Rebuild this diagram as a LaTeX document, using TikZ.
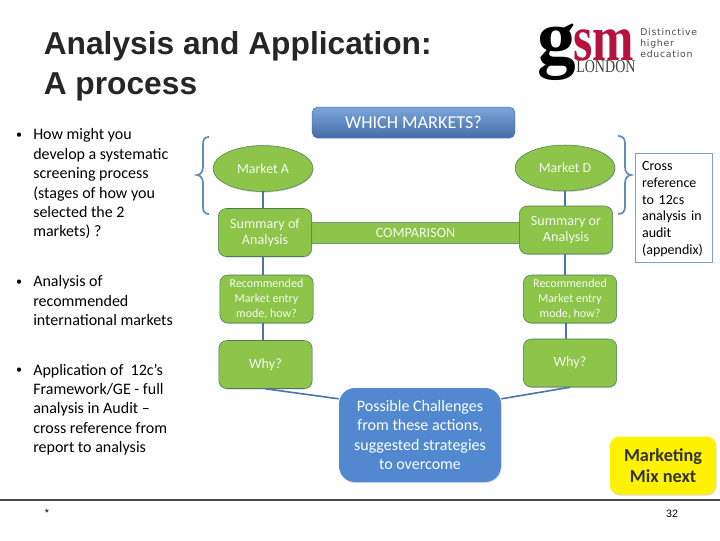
\documentclass[tikz,border=0pt]{standalone}
\usepackage{fontspec}
\setmainfont{Carlito}
\newfontfamily\titlefont{Liberation Sans}
\newfontfamily\logofont{Liberation Serif}
\newfontfamily\tagfont[LetterSpace=8]{DejaVu Sans}
\usetikzlibrary{shapes.geometric,shadows}
\definecolor{leaf}{HTML}{8CC54A}
\definecolor{leafline}{HTML}{4F7A55}
\definecolor{linkblue}{HTML}{4A74AE}
\definecolor{boxblue}{HTML}{5288CF}
\definecolor{crimson}{HTML}{B5123E}
\tikzset{
  softshadow/.style={drop shadow={shadow xshift=0.4pt, shadow yshift=-0.8pt, opacity=0.3}},
  leafbox/.style={draw=leafline, fill=leaf, rounded corners=6pt, text=white!92!leaf, align=center, inner sep=0pt, minimum width=70pt, minimum height=36pt, font=\fontsize{10.6}{12}\selectfont, softshadow},
  smallbox/.style={leafbox, font=\fontsize{9}{11.3}\selectfont},
  marketoval/.style={ellipse, draw=leafline, fill=leaf, text=white!92!leaf, inner sep=0pt, minimum width=75pt, minimum height=34.5pt, font=\fontsize{10.4}{14}\selectfont, softshadow},
  bullettext/.style={anchor=north west, align=left, inner sep=0pt, font=\fontsize{12}{14.55}\selectfont},
  bulletdot/.style={inner sep=0pt, font=\fontsize{9}{10}\selectfont},
  link/.style={draw=linkblue, line width=1.2pt},
  curly/.style={draw=linkblue!85!white, line width=1.3pt}
}
\begin{document}
\begin{tikzpicture}[x=0.75pt,y=-0.75pt]
\useasboundingbox (0,0) rectangle (720,540);
% heading and logo
\node[anchor=north west, inner sep=0pt, align=left, font=\titlefont\bfseries\fontsize{23.8}{30}\selectfont, text=black!85] (heading) at (43.5,31.5) {Analysis and Application:\\A process};
\node[anchor=base west, inner sep=0pt, font=\logofont\bfseries\fontsize{58}{58}\selectfont] (logog) at (537,63) {g};
\node[anchor=base west, inner sep=0pt, font=\logofont\bfseries\fontsize{49}{49}\selectfont, text=crimson] (logosm) at (573,60) {\scalebox{0.76}[1]{sm}};
\node[anchor=base west, inner sep=0pt, font=\logofont\fontsize{13.5}{14}\selectfont, text=black!75] (logocity) at (576,72.5) {\scalebox{0.78}[1]{LONDON}};
\node[anchor=north west, inner sep=0pt, align=left, font=\tagfont\fontsize{7}{8.4}\selectfont, text=black!70] (logotag) at (640,28) {Distinctive\\higher\\education};
% left column
\node[bullettext] (bulleta) at (33,128.5) {How might you\\develop a systematic\\screening process\\(stages of how you\\selected the 2\\markets) ?};
\node[bullettext] (bulletb) at (33,275.5) {Analysis of\\recommended\\international markets};
\node[bullettext] (bulletc) at (33,363.5) {Application of\ \ 12c’s\\Framework/GE - full\\analysis in Audit –\\cross reference from\\report to analysis};
\node[bulletdot] (dota) at (19,136) {•};
\node[bulletdot] (dotb) at (19,283) {•};
\node[bulletdot] (dotc) at (19,371) {•};
% flow
\node[draw=linkblue, rounded corners=4pt, top color=boxblue!75!white, bottom color=boxblue!80!black, text=white, inner sep=0pt, minimum width=152pt, minimum height=23pt, font=\fontsize{13.6}{15}\selectfont, softshadow] (markets) at (413.5,122.5) {WHICH MARKETS?};
\node[draw=leafline!80!white, fill=leaf, text=white!92!leaf, inner sep=0pt, minimum width=156pt, minimum height=16pt, font=\fontsize{10.6}{12}\selectfont] (comparison) at (415.5,232.5) {COMPARISON};
\node[marketoval] (marketa) at (263,168.5) {Market A};
\node[marketoval] (marketd) at (565,168) {Market D};
\node[leafbox] (summarya) at (265,232.5) {Summary of\\Analysis};
\node[leafbox] (summaryd) at (566,230) {Summary or\\Analysis};
\node[smallbox] (moda) at (266.5,299) {Recommended\\Market entry\\mode, how?};
\node[smallbox] (modd) at (570,299) {Recommended\\Market entry\\mode, how?};
\node[leafbox] (whya) at (265.5,364.5) {Why?};
\node[leafbox] (whyd) at (570,363) {Why?};
\node[fill=boxblue, rounded corners=12pt, text=white, align=center, inner sep=0pt, minimum width=121.5pt, minimum height=70.5pt, font=\fontsize{12}{14.6}\selectfont, softshadow] (challenges) at (420,435) {Possible Challenges\\from these actions,\\suggested strategies\\to overcome};
\draw[link] (marketa.south) -- (marketa.south |- summarya.north);
\draw[link] (marketa.south |- summarya.south) -- (marketa.south |- moda.north);
\draw[link] (marketa.south |- moda.south) -- (marketa.south |- whya.north);
\draw[link] (marketd.south) -- (marketd.south |- summaryd.north);
\draw[link] (marketd.south |- summaryd.south) -- (marketd.south |- modd.north);
\draw[link] (summaryd.south |- modd.south) -- (summaryd.south |- whyd.north);
\draw[link] (whya.south) -- (challenges.156);
\draw[link] (whyd.south) -- (challenges.24);
% braces
\draw[curly] (209,137) .. controls (205,137) and (203,139) .. (203,144) -- (203,167) .. controls (203,172) and (200,175) .. (197,175) .. controls (200,175) and (203,178) .. (203,183) -- (203,207) .. controls (203,212) and (205,214) .. (209,214);
\draw[curly] (618,136) .. controls (622,136) and (625,138) .. (625,143) -- (625,167) .. controls (625,172) and (628,175) .. (631,175) .. controls (628,175) and (625,178) .. (625,183) -- (625,207) .. controls (625,212) and (622,214) .. (618,214);
% notes
\node[draw=linkblue!70!white, line width=0.6pt, anchor=north west, inner ysep=0pt, inner xsep=5pt, align=left, text width=47.75pt, minimum height=82pt, font=\fontsize{10.5}{12.5}\selectfont] (crossref) at (635,153) {\rule{0pt}{8.5pt}Cross\\reference\\to 12cs\\analysis in\\audit\\(appendix)};
\node[fill=yellow, rounded corners=7pt, text=black!80, align=center, inner sep=0pt, minimum width=79.5pt, minimum height=43.5pt, font=\bfseries\fontsize{13.7}{16}\selectfont, softshadow] (nextbox) at (663,465.5) {Marketing\\Mix next};
% footer
\coordinate (rulea) at (0,500);
\coordinate (ruleb) at (720,500);
\draw[black!70, line width=1pt] (rulea) -- (ruleb);
\node[inner sep=0pt, font=\titlefont\fontsize{8}{10}\selectfont] (star) at (47,513) {*};
\node[inner sep=0pt, font=\titlefont\fontsize{8}{10}\selectfont] (pagenum) at (672,514) {32};
\end{tikzpicture}
\end{document}
